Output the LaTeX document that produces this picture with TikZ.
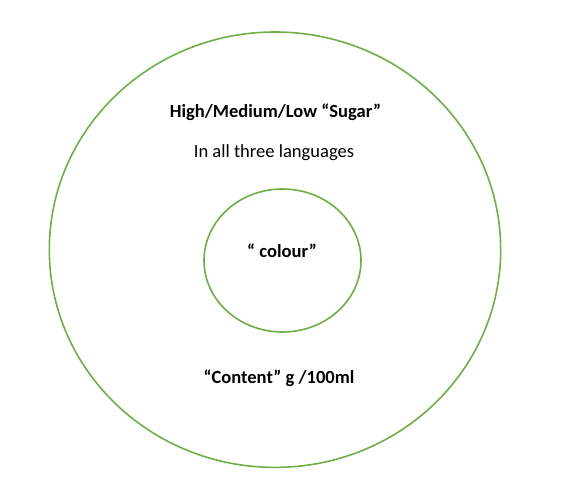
\documentclass[tikz,border=0pt]{standalone}
\usepackage{fontspec}
\setmainfont{Carlito}
\begin{document}
\begin{tikzpicture}[x=0.75pt,y=-0.75pt,
  ring/.style={draw=ringgreen,line width=1.2pt},
  label/.style={inner sep=0pt,anchor=center,font=\fontsize{13.9pt}{16pt}\selectfont},
  boldlabel/.style={label,font=\fontsize{13.9pt}{16pt}\selectfont\bfseries}]
\definecolor{ringgreen}{HTML}{70AD47}
\useasboundingbox (0,0) rectangle (564,496);
% outer and inner rings
\draw[ring] (275,249.7) ellipse [x radius=225.7, y radius=217.7];
\draw[ring] (282.5,260.5) ellipse [x radius=78.5, y radius=71.5];
% texts
\node[boldlabel] (title) at (275.5,112) {High/Medium/Low “Sugar”};
\node[label] (lang) at (274,153) {In all three languages};
\node[boldlabel] (colour) at (282,251) {“ colour”};
\node[boldlabel] (content) at (279,378) {“Content” g /100ml};
\end{tikzpicture}
\end{document}
